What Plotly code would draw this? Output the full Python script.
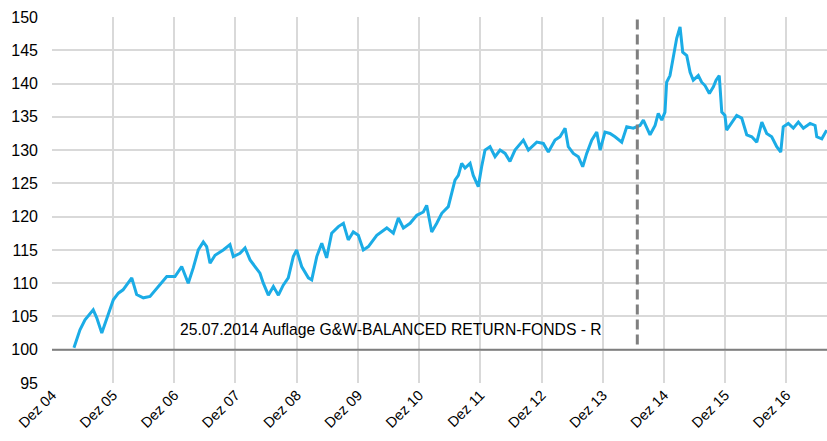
import plotly.graph_objects as go

# ---- data ----
dates = [
    "2005-05-11", "2005-06-16", "2005-07-16", "2005-09-03", "2005-09-24", "2005-10-24",
    "2006-01-01", "2006-01-31", "2006-02-28", "2006-04-11", "2006-04-21", "2006-05-20",
    "2006-06-29", "2006-08-08", "2006-10-07", "2006-11-16", "2007-01-04", "2007-02-13",
    "2007-03-24", "2007-04-23", "2007-05-23", "2007-06-22", "2007-07-12", "2007-08-01",
    "2007-08-31", "2007-10-19", "2007-11-28", "2007-12-18", "2008-01-27", "2008-02-26",
    "2008-03-27", "2008-04-25", "2008-05-25", "2008-06-14", "2008-07-14", "2008-08-13",
    "2008-09-12", "2008-10-11", "2008-11-10", "2008-12-10", "2008-12-30", "2009-01-29",
    "2009-03-10", "2009-03-30", "2009-04-29", "2009-05-29", "2009-06-27", "2009-07-27",
    "2009-09-05", "2009-10-05", "2009-11-03", "2009-12-03", "2010-01-02", "2010-02-01",
    "2010-03-03", "2010-04-22", "2010-06-21", "2010-07-30", "2010-08-29", "2010-09-28",
    "2010-11-07", "2010-12-17", "2011-01-25", "2011-02-14", "2011-03-16", "2011-04-15",
    "2011-05-15", "2011-06-23", "2011-07-03", "2011-08-02", "2011-08-22", "2011-09-11",
    "2011-10-01", "2011-10-31", "2011-11-19", "2011-12-19", "2012-01-08", "2012-01-28",
    "2012-02-27", "2012-03-28", "2012-04-27", "2012-05-27", "2012-06-25", "2012-07-25",
    "2012-09-13", "2012-10-13", "2012-12-02", "2013-01-10", "2013-02-09", "2013-03-21",
    "2013-04-20", "2013-05-20", "2013-06-08", "2013-07-08", "2013-08-07", "2013-09-02",
    "2013-09-26", "2013-10-26", "2013-11-25", "2013-12-15", "2014-01-13", "2014-02-12",
    "2014-03-14", "2014-04-23", "2014-05-23", "2014-07-01", "2014-08-10", "2014-08-30",
    "2014-10-09", "2014-11-08", "2014-11-27", "2014-12-18", "2015-01-06", "2015-01-16",
    "2015-02-05", "2015-02-25", "2015-03-17", "2015-04-06", "2015-04-22", "2015-05-16",
    "2015-06-05", "2015-06-24", "2015-07-24", "2015-08-13", "2015-09-02", "2015-09-28",
    "2015-10-22", "2015-11-07", "2015-11-26", "2015-12-11", "2015-12-30", "2016-01-09",
    "2016-02-08", "2016-03-09", "2016-04-08", "2016-05-08", "2016-06-07", "2016-07-07",
    "2016-08-06", "2016-09-04", "2016-10-04", "2016-11-03", "2016-11-27", "2016-12-12",
    "2017-01-11", "2017-02-10", "2017-03-12", "2017-04-11", "2017-05-21", "2017-06-20",
    "2017-06-30", "2017-07-30", "2017-08-28",
]
values = [
    100.3, 103.0, 104.5, 106.0, 104.8, 102.5,
    107.5, 108.5, 109.0, 110.5, 110.8, 108.3,
    107.8, 108.0, 109.8, 111.0, 111.0, 112.5,
    110.0, 112.3, 115.0, 116.2, 115.5, 113.0,
    114.2, 115.0, 115.8, 114.0, 114.5, 115.3,
    113.5, 112.5, 111.5, 110.0, 108.2, 109.5,
    108.2, 109.7, 110.8, 114.0, 115.0, 112.5,
    110.8, 110.5, 114.0, 116.0, 113.8, 117.5,
    118.5, 119.0, 116.5, 117.7, 117.2, 115.0,
    115.5, 117.2, 118.3, 117.5, 119.8, 118.3,
    119.0, 120.2, 120.7, 121.7, 117.7, 119.0,
    120.5, 121.5, 122.5, 125.5, 126.2, 128.0,
    127.3, 128.0, 126.2, 124.5, 127.5, 130.0,
    130.5, 129.0, 130.0, 129.5, 128.3, 130.0,
    131.5, 130.0, 131.2, 131.0, 129.7, 131.5,
    132.0, 133.3, 130.5, 129.5, 129.0, 127.5,
    129.5, 131.5, 132.7, 130.0, 132.7, 132.5,
    132.0, 131.2, 133.5, 133.3, 133.7, 134.5,
    132.3, 133.7, 135.5, 134.5, 135.7, 140.2,
    141.2, 143.8, 146.8, 148.5, 144.7, 144.2,
    141.7, 140.5, 141.2, 140.2, 139.7, 138.5,
    139.5, 140.5, 141.2, 135.7, 135.2, 133.0,
    134.2, 135.2, 134.8, 132.3, 132.0, 131.2,
    134.2, 132.5, 132.0, 130.5, 129.7, 133.5,
    134.0, 133.3, 134.2, 133.3, 134.0, 133.7,
    132.0, 131.7, 133.0,
]

tick_dates = ["2004-12-31", "2005-12-31", "2006-12-31", "2007-12-31", "2008-12-31",
              "2009-12-31", "2010-12-31", "2011-12-31", "2012-12-31", "2013-12-31",
              "2014-12-31", "2015-12-31", "2016-12-31"]
tick_labels = ["Dez 04", "Dez 05", "Dez 06", "Dez 07", "Dez 08", "Dez 09", "Dez 10",
               "Dez 11", "Dez 12", "Dez 13", "Dez 14", "Dez 15", "Dez 16"]
y_ticks = [95, 100, 105, 110, 115, 120, 125, 130, 135, 140, 145, 150]

launch_date = "2014-07-25"
launch_text = "25.07.2014 Auflage G&W-BALANCED RETURN-FONDS - R"
base_value = 100
x_range = ["2004-12-31", "2017-08-30"]

FONT = "Arial, 'Liberation Sans', sans-serif"
GRID = "#d9d9d9"

fig = go.Figure()
# baseline at 100 (drawn first so the fund line sits on top)
fig.add_trace(go.Scatter(
    x=x_range, y=[base_value, base_value], mode="lines",
    line=dict(color="#7f7f7f", width=2),
    showlegend=False, hoverinfo="skip",
))
fig.add_trace(go.Scatter(
    x=dates, y=values, mode="lines",
    line=dict(color="#1BACE6", width=3),
    showlegend=False, hoverinfo="skip",
))

fig.add_shape(type="line", xref="x", yref="y", x0=launch_date, x1=launch_date,
              y0=100.8, y1=150,
              line=dict(color="#7f7f7f", width=3, dash="10px,5px"), layer="above")

fig.add_annotation(text=launch_text, xref="paper", yref="y",
                   x=0.4368, y=103.0, xanchor="center", yanchor="middle",
                   showarrow=False, font=dict(family=FONT, size=15.7, color="#000000"))

fig.update_layout(
    width=827, height=441,
    margin=dict(l=52, r=0, t=17, b=58),
    paper_bgcolor="white", plot_bgcolor="white",
    font=dict(family=FONT, color="#000000"),
)
fig.update_xaxes(
    type="date", range=x_range,
    tickmode="array", tickvals=tick_dates, ticktext=tick_labels,
    tickangle=-45, tickfont=dict(size=14.5, color="#000000"),
    showgrid=True, gridcolor=GRID, gridwidth=2,
    showline=False, zeroline=False, ticks="", automargin=False,
)
fig.update_yaxes(
    range=[95, 150], tickmode="array", tickvals=y_ticks,
    tickfont=dict(size=16, color="#000000"),
    showgrid=True, gridcolor=GRID, gridwidth=2,
    showline=False, zeroline=False, ticks="", ticklabelstandoff=13,
    automargin=False,
)

fig.write_html("out.html",
               config={"displayModeBar": False},
               post_script="document.body.style.margin='0';document.body.style.overflow='hidden';")
